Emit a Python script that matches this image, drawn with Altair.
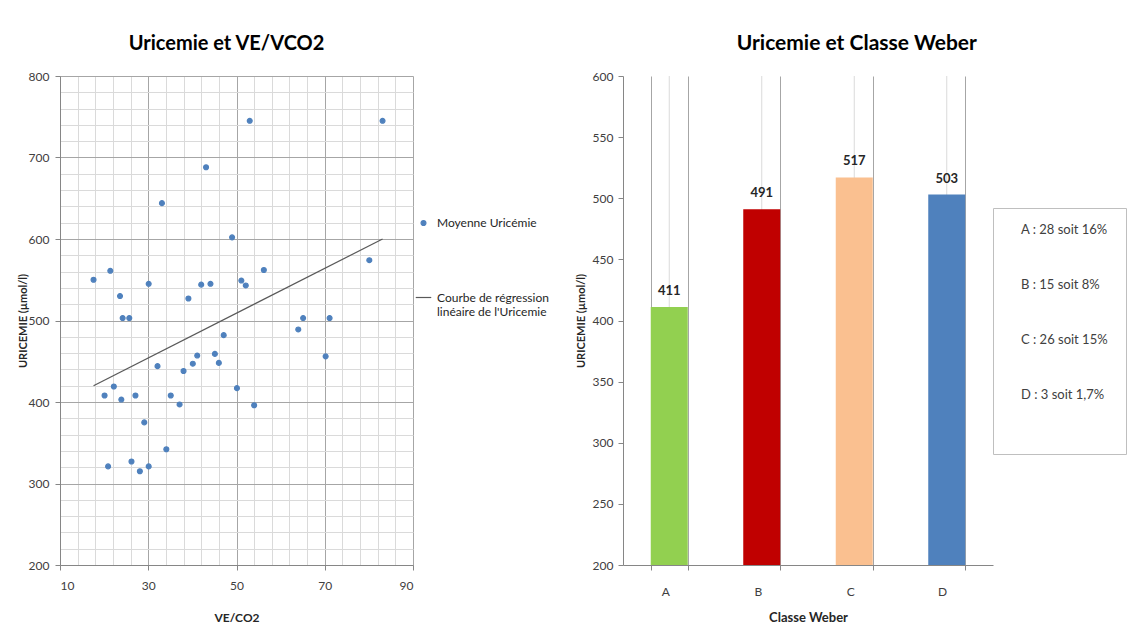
import json
import altair as alt
import pandas as pd

# ---------------- data ----------------
ve_vco2 = [17.6, 21.4, 23.6, 24.2, 25.7, 30.1, 33.1, 39.1, 42.0, 44.1, 43.1, 49.0,
           53.0, 51.1, 52.1, 56.2, 80.1, 83.1, 64.0, 65.1, 71.1, 70.2, 47.1, 45.1,
           46.0, 41.1, 40.1, 38.0, 32.1, 35.1, 37.1, 50.1, 54.0, 20.1, 22.2, 23.9,
           27.1, 29.1, 34.1, 20.9, 26.2, 28.1, 30.1]
uricemie = [550, 561, 530, 503, 503, 545, 644, 527, 544, 545, 688, 602,
            745, 549, 543, 562, 574, 745, 489, 503, 503, 456, 482, 459,
            448, 457, 447, 438, 444, 408, 397, 417, 396, 408, 419, 403,
            408, 375, 342, 321, 327, 315, 321]
reg_x = [17.6, 83.1]
reg_y = [420, 600]
series_names = ["Moyenne Uricémie", "Courbe de régression linéaire de l'Uricemie"]
series_lines = [["Moyenne Uricémie"], ["Courbe de régression", "linéaire de l'Uricemie"]]
series_colors = ["#4F81BD", "#595959"]
series_shapes = ["circle", "stroke"]
series_sizes = [24, 240]

classes = ["A", "B", "C", "D"]
uric_means = [411, 491, 517, 503]
bar_colors = ["#92D050", "#C00000", "#FAC090", "#4F81BD"]
class_notes = ["A : 28 soit 16%", "B : 15 soit 8%", "C : 26 soit  15%", "D : 3 soit 1,7%"]

# ---------------- styling ----------------
FONT = "Lato"
MAJOR = "#a6a6a6"
MINOR = "#dadada"
LABEL = "#404040"

scatter_df = pd.DataFrame({"x": ve_vco2, "y": uricemie, "serie": series_names[0]})
reg_df = pd.DataFrame({"x": reg_x, "y": reg_y})
bar_df = pd.DataFrame({"cls": classes, "val": uric_means})


def cond(test, a, b):
    return {"condition": {"test": test, "value": a}, "value": b}


# ---------------- left chart ----------------
xvals = list(range(10, 91, 4))
yvals = list(range(200, 801, 20))
xmaj = "(datum.value - 10) % 20 == 0"
ymaj = "datum.value % 100 == 0"
x_left = alt.X(
    "x:Q",
    scale=alt.Scale(domain=[10, 90], nice=False, zero=False),
    axis=alt.Axis(
        values=xvals,
        tickCount=len(xvals),
        labelOverlap=False,
        labelExpr=f"{xmaj} ? datum.label : ''",
        gridColor=cond(xmaj, MAJOR, MINOR),
        tickOpacity=cond(xmaj, 1, 0),
        title="VE/CO2",
        titleFontWeight="bold",
        titleFontSize=12,
        titlePadding=21,
        labelPadding=10,
    ),
)
y_left = alt.Y(
    "y:Q",
    scale=alt.Scale(domain=[200, 800], nice=False, zero=False),
    axis=alt.Axis(
        values=yvals,
        tickCount=len(yvals),
        labelOverlap=False,
        labelExpr=f"{ymaj} ? datum.label : ''",
        gridColor=cond(ymaj, MAJOR, MINOR),
        tickOpacity=cond(ymaj, 1, 0),
        title="URICEMIE  (µmol/l)",
        titleFontWeight="bold",
        titleFontSize=11,
        titlePadding=0,
        labelPadding=6,
    ),
)

label_map = "{" + ", ".join(
    json.dumps(n) + ": " + json.dumps(l) for n, l in zip(series_names, series_lines)
) + "}"
left_legend = alt.Legend(
    orient="none",
    legendX=355,
    legendY=141,
    title=None,
    labelExpr=f"{label_map}[datum.value]",
    labelFontSize=12,
    labelColor="#262626",
    rowPadding=60,
    padding=0,
    labelOffset=5,
    symbolStrokeWidth=1.2,
)
serie_stroke = alt.Stroke(
    "serie:N", scale=alt.Scale(domain=series_names, range=series_colors), legend=left_legend
)
serie_shape = alt.Shape(
    "serie:N", scale=alt.Scale(domain=series_names, range=series_shapes), legend=left_legend
)
serie_size = alt.Size(
    "serie:N", scale=alt.Scale(domain=series_names, range=series_sizes), legend=left_legend
)

pts = alt.Chart(scatter_df).mark_point(
    filled=True, opacity=1, strokeWidth=1.2, color=series_colors[0], fill=series_colors[0]
).encode(
    x=x_left, y=y_left, stroke=serie_stroke, shape=serie_shape, size=serie_size,
)
reg = alt.Chart(reg_df).mark_line(strokeWidth=1.2, color=series_colors[1]).encode(
    x="x:Q", y="y:Q"
)
left = alt.layer(reg, pts).properties(
    width=353,
    height=489,
    title=alt.TitleParams(
        "Uricemie et VE/VCO2", fontSize=20, fontWeight="bold", font=FONT,
        color="#000000", anchor="middle", offset=16, dx=-10,
    ),
)

# ---------------- right chart ----------------
rvals = list(range(200, 601, 10))
rmaj = "datum.value % 50 == 0"
x_right = alt.X(
    "cls:N",
    sort=classes,
    scale=alt.Scale(paddingInner=0.6, paddingOuter=0.3),
    axis=alt.Axis(
        tickBand="extent",
        labelAngle=0,
        grid=True,
        gridColor=MAJOR,
        title="Classe Weber",
        titleFontWeight="bold",
        titleFontSize=13,
        titlePadding=14,
        labelPadding=21,
    ),
)
y_right = alt.Y(
    "val:Q",
    scale=alt.Scale(domain=[200, 600], nice=False, zero=False),
    axis=alt.Axis(
        values=rvals,
        tickCount=len(rvals),
        labelOverlap=False,
        labelExpr=f"{rmaj} ? datum.label : ''",
        gridColor=cond(rmaj, MAJOR, MINOR),
        tickOpacity=cond(rmaj, 1, 0),
        title="URICEMIE  (µmol/l)",
        titleFontWeight="bold",
        titleFontSize=11,
        titlePadding=6,
        labelPadding=5,
    ),
)
note_map = json.dumps(dict(zip(classes, class_notes)))
right_legend = alt.Legend(
    orient="none",
    legendX=370,
    legendY=132,
    title=" ",
    titleOrient="bottom",
    titlePadding=24,
    titleFontSize=13,
    labelExpr=f"{note_map}[datum.value]",
    labelFontSize=13,
    labelColor="#404040",
    symbolSize=0,
    symbolOpacity=0,
    symbolStrokeWidth=0,
    labelOffset=0,
    rowPadding=41,
    padding=15,
    strokeColor="#bfbfbf",
    fillColor="#ffffff",
)
color_right = alt.Color(
    "cls:N",
    scale=alt.Scale(domain=classes, range=bar_colors),
    legend=right_legend,
)

center_rules = alt.Chart(bar_df).mark_rule(color=MINOR, strokeWidth=1).encode(
    x=alt.X("cls:N", sort=classes), y=alt.datum(600), y2=alt.datum(200)
)
bars = alt.Chart(bar_df).mark_bar().encode(
    x=x_right, y=y_right, y2=alt.datum(200), color=color_right
)
bar_labels = alt.Chart(bar_df).mark_text(
    dy=-16, fontWeight="bold", fontSize=13, color="#262626", font=FONT
).encode(x=alt.X("cls:N", sort=classes), y="val:Q", text="val:Q")

right = alt.layer(center_rules, bars, bar_labels).properties(
    width=370,
    height=489,
    title=alt.TitleParams(
        "Uricemie et Classe Weber", fontSize=21, fontWeight="bold", font=FONT,
        color="#000000", anchor="middle", frame="bounds", offset=16, dx=6,
    ),
)

chart = (
    alt.hconcat(left, right, spacing=160)
    .resolve_scale(color="independent", x="independent", y="independent")
    .properties(padding={"left": 8, "top": 24, "right": 0, "bottom": 0})
    .configure(font=FONT)
    .configure_view(stroke="transparent")
    .configure_axis(
        labelFont=FONT,
        titleFont=FONT,
        labelFontSize=12,
        labelColor=LABEL,
        titleColor="#262626",
        domainColor="#868686",
        tickColor="#868686",
        tickSize=5,
        gridWidth=1,
    )
    .configure_legend(labelFont=FONT)
)

chart.save("out.html", embed_options={"renderer": "svg", "actions": False})
